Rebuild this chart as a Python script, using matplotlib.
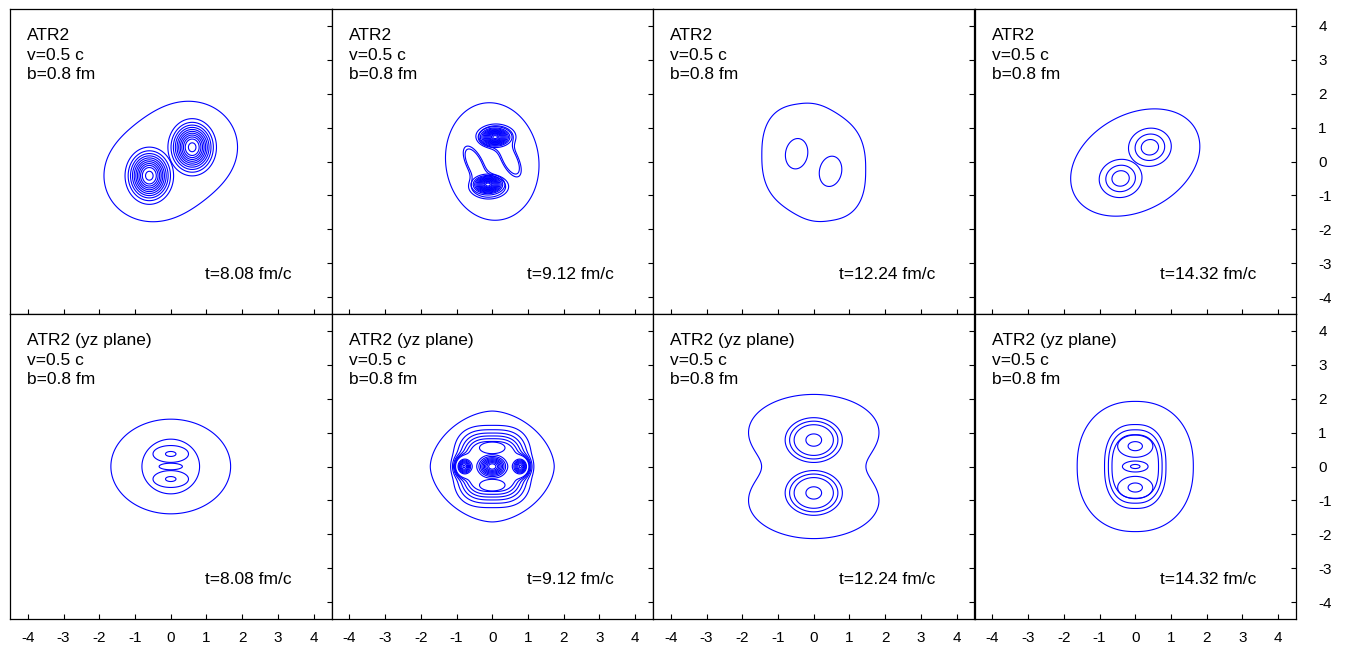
import numpy as np
import matplotlib.pyplot as plt

plt.rcParams['font.family'] = ['Liberation Sans', 'DejaVu Sans']
plt.rcParams['axes.unicode_minus'] = False

# panel labels
times = ['8.08', '9.12', '12.24', '14.32']
row_titles = ['ATR2', 'ATR2 (yz plane)']
velocity = '0.5'
impact = '0.8'
ticks = [-4, -3, -2, -1, 0, 1, 2, 3, 4]

# density blobs: x0, y0, sx, sy, amp, angle, shape exponent
# --- top row (reaction plane) ---
t808_halo = [(-0.55, -0.45, 0.85, 0.85, 1, 0, 2), (0.55, 0.45, 0.85, 0.85, 1, 0, 2)]
t808_halo_lv = [0.31]
t808_core_a = [(-0.6, -0.42, 0.33, 0.41, 1, 0, 2)]
t808_core_b = [(0.6, 0.42, 0.33, 0.41, 1, 0, 2)]
t808_core_lv = [0.12, 0.2, 0.28, 0.36, 0.44, 0.52, 0.6, 0.68, 0.76, 0.84, 0.95]

t912_outer = [(0, 0, 0.84, 1.12, 1, 6, 2)]
t912_outer_lv = [0.3]
t912_wrap_up = [(0.1, 0.74, 0.37, 0.24, 1, 0, 2), (0.5, 0.05, 0.16, 0.38, 0.9, 25, 2)]
t912_wrap_lo = [(-0.1, -0.74, 0.37, 0.24, 1, 0, 2), (-0.5, -0.05, 0.16, 0.38, 0.9, 25, 2)]
t912_wrap_lv = [0.32, 0.44]
t912_core_up = [(0.08, 0.72, 0.23, 0.15, 1, 0, 2)]
t912_core_lo = [(-0.12, -0.68, 0.23, 0.15, 1, 0, 2)]
t912_core_lv = [0.12, 0.2, 0.27, 0.34, 0.41, 0.48, 0.55, 0.62, 0.69, 0.76, 0.83, 0.9, 0.96]

t1224_outer = [(-0.45, 0.2, 0.78, 1.1, 1, 0, 2.5), (0.45, -0.25, 0.78, 1.1, 1, 0, 2.5)]
t1224_outer_lv = [0.4]
t1224_in_a = [(-0.48, 0.23, 0.2, 0.29, 1, -8, 2)]
t1224_in_b = [(0.47, -0.29, 0.2, 0.29, 1, -10, 2)]
t1224_in_lv = [0.3]

t1432_outer = [(0, -0.03, 1.26, 0.9, 1, 33, 2)]
t1432_outer_lv = [0.3]
t1432_in_a = [(0.41, 0.42, 0.40, 0.37, 1, 20, 2)]
t1432_in_b = [(-0.41, -0.5, 0.40, 0.37, 1, 20, 2)]
t1432_in_lv = [0.32, 0.58, 0.83]

# --- bottom row (yz plane) ---
b808_outer = [(0, 0, 1.08, 0.9, 1, 0, 2)]
b808_ring = [(0, 0, 0.52, 0.52, 1, 0, 2)]
b808_one_lv = [0.3]
b808_d_up = [(0, 0.37, 0.32, 0.16, 1, 0, 2)]
b808_d_lo = [(0, -0.37, 0.32, 0.16, 1, 0, 2)]
b808_d_lv = [0.3, 0.9]
b808_mid = [(0, 0, 0.21, 0.062, 1, 0, 2)]

b912_outer = [(0, 0, 1.05, 0.99, 1, 0, 1.75)]
b912_outer_lv = [0.3]
b912_body = [(0, 0, 0.68, 0.75, 0.5, 0, 3),
             (0, 0, 0.22, 0.17, 1.0, 0, 2),
             (-0.8, 0, 0.13, 0.155, 1.0, 0, 2),
             (0.8, 0, 0.13, 0.155, 1.0, 0, 2)]
b912_body_lv = [0.06, 0.11, 0.16, 0.21, 0.26, 0.31, 0.6, 0.7, 0.8, 0.9, 1.0, 1.1, 1.2, 1.3, 1.4]
b912_lobe_up = [(0, 0.55, 0.23, 0.11, 1, 0, 2)]
b912_lobe_lo = [(0, -0.55, 0.23, 0.11, 1, 0, 2)]
b912_lobe_lv = [0.3]

b1224_outer = [(0, 1.02, 1.085, 0.66, 1, 0, 2), (0, -1.02, 1.085, 0.66, 1, 0, 2)]
b1224_outer_lv = [0.245]
b1224_up = [(0, 0.78, 0.40, 0.33, 1, 0, 2)]
b1224_lo = [(0, -0.78, 0.40, 0.33, 1, 0, 2)]
b1224_in_lv = [0.135, 0.24, 0.39, 0.86]

b1432_outer = [(0, 0, 1.1, 1.3, 1, 0, 2.25)]
b1432_outer_lv = [0.3]
b1432_env = [(0, 0, 0.5, 0.72, 1, 0, 2.5)]
b1432_env_lv = [0.144, 0.25, 0.38]
b1432_d_up = [(0, 0.6, 0.3, 0.2, 1, 0, 2)]
b1432_d_lo = [(0, -0.62, 0.3, 0.2, 1, 0, 2)]
b1432_d_lv = [0.26, 0.8]
b1432_mid = [(0, 0, 0.2, 0.09, 1, 0, 2)]
b1432_mid_lv = [0.2, 0.8]

panels = [
    [[(t808_halo, t808_halo_lv), (t808_core_a, t808_core_lv), (t808_core_b, t808_core_lv)],
     [(t912_outer, t912_outer_lv), (t912_wrap_up, t912_wrap_lv), (t912_wrap_lo, t912_wrap_lv),
      (t912_core_up, t912_core_lv), (t912_core_lo, t912_core_lv)],
     [(t1224_outer, t1224_outer_lv), (t1224_in_a, t1224_in_lv), (t1224_in_b, t1224_in_lv)],
     [(t1432_outer, t1432_outer_lv), (t1432_in_a, t1432_in_lv), (t1432_in_b, t1432_in_lv)]],
    [[(b808_outer, b808_one_lv), (b808_ring, b808_one_lv), (b808_d_up, b808_d_lv),
      (b808_d_lo, b808_d_lv), (b808_mid, b808_one_lv)],
     [(b912_outer, b912_outer_lv), (b912_body, b912_body_lv), (b912_lobe_up, b912_lobe_lv),
      (b912_lobe_lo, b912_lobe_lv)],
     [(b1224_outer, b1224_outer_lv), (b1224_up, b1224_in_lv), (b1224_lo, b1224_in_lv)],
     [(b1432_outer, b1432_outer_lv), (b1432_env, b1432_env_lv), (b1432_d_up, b1432_d_lv),
      (b1432_d_lo, b1432_d_lv), (b1432_mid, b1432_mid_lv)]],
]


def density(X, Y, blobs):
    Z = np.zeros_like(X)
    for x0, y0, sx, sy, amp, ang, q in blobs:
        t = np.deg2rad(ang)
        u = (X - x0) * np.cos(t) + (Y - y0) * np.sin(t)
        v = -(X - x0) * np.sin(t) + (Y - y0) * np.cos(t)
        Z += amp * np.exp(-0.5 * (np.abs(u / sx) ** q + np.abs(v / sy) ** q))
    return Z


g = np.linspace(-4.5, 4.5, 601)
X, Y = np.meshgrid(g, g)

W, H = 1348, 649
fig = plt.figure(figsize=(W / 100, H / 100), dpi=100)
pw, ph = 321.5, 305

for r in range(2):
    for c in range(4):
        ax = fig.add_axes([(10 + c * pw) / W, 1 - (9 + (r + 1) * ph) / H, pw / W, ph / H])
        for blobs, lv in panels[r][c]:
            ax.contour(X, Y, density(X, Y, blobs), levels=lv, colors='#0000ff', linewidths=0.8)
        ax.set_xlim(-4.5, 4.5)
        ax.set_ylim(-4.5, 4.5)
        ax.set_xticks(ticks)
        ax.set_yticks(ticks)
        ax.tick_params(direction='in', length=3.8, width=0.8, bottom=True, top=False,
                       left=False, right=True, labelbottom=(r == 1), labelleft=False,
                       labelright=(c == 3), labelsize=11)
        ax.tick_params(axis='x', pad=9)
        ax.tick_params(axis='y', pad=16)
        for s in ax.spines.values():
            s.set_linewidth(0.9)
        ax.text(0.053, 0.937, f'{row_titles[r]}\nv={velocity} c\nb={impact} fm',
                transform=ax.transAxes, ha='left', va='top', fontsize=12.5, linespacing=1.37)
        ax.text(0.877, 0.115, f't={times[c]} fm/c', transform=ax.transAxes,
                ha='right', va='baseline', fontsize=12.5)

fig.savefig('out.png', dpi=100)
